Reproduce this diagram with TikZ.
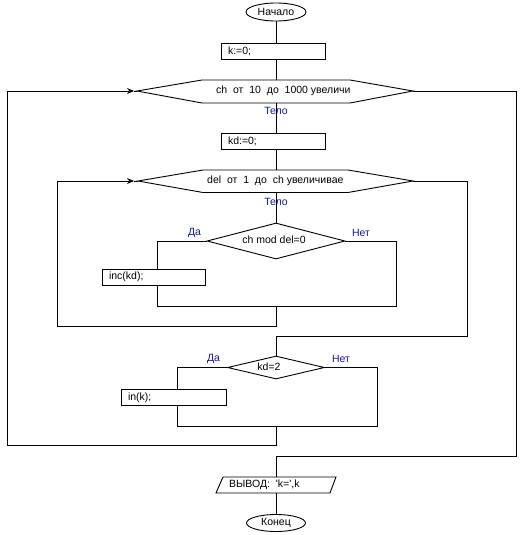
\documentclass[tikz,border=0pt]{standalone}
\usepackage{fontspec}
\newfontfamily\uifont{Liberation Sans}
\usetikzlibrary{shapes.geometric,arrows.meta}
\definecolor{lblc}{RGB}{20,20,190}
\begin{document}
\begin{tikzpicture}[x=1pt,y=-1pt,
  every node/.style={font=\uifont\fontsize{10.5}{12}\selectfont},
  line/.style={line width=0.9pt},
  term/.style={draw, line width=0.9pt, ellipse, minimum width=60pt, minimum height=18pt, inner sep=0pt},
  proc/.style={draw, line width=0.9pt, rectangle, minimum height=16pt, inner xsep=7pt, inner ysep=0pt, align=left, text width=#1},
  cond/.style={draw, line width=0.9pt, diamond, inner sep=0pt},
  lbl/.style={text=lblc, inner sep=0pt},
  txt/.style={inner sep=0pt, anchor=west},
  arr/.style={line width=0.9pt, -{Stealth[length=7pt,width=6pt]}}
]
\useasboundingbox (0,0) rectangle (520,535);
\fill[white] (0,0) rectangle (520,535);

% start and init
\node[term] (start) at (276,12) {Начало};
\node[proc=90pt] (k0) at (273,51) {k:=0;};

% outer loop hexagon
\coordinate (h1w) at (137,91);
\coordinate (h1tl) at (202,80);
\coordinate (h1tr) at (350,80);
\coordinate (h1e) at (413,91);
\coordinate (h1br) at (350,103);
\coordinate (h1bl) at (202,103);
\coordinate (h1t) at (276,80);
\coordinate (h1b) at (276,103);
\draw[line] (h1w) -- (h1tl) -- (h1tr) -- (h1e) -- (h1br) -- (h1bl) -- cycle;
\node[txt] (h1txt) at (216,91) {ch\ \ от\ \ 10\ \ до\ \ 1000 увеличи};
\node[lbl] (tel1) at (276,111) {Тело};

\node[proc=90pt] (kd0) at (273,141) {kd:=0;};

% inner loop hexagon
\coordinate (h2w) at (138,181);
\coordinate (h2tl) at (203,170);
\coordinate (h2tr) at (348,170);
\coordinate (h2e) at (413,181);
\coordinate (h2br) at (348,192.5);
\coordinate (h2bl) at (203,192.5);
\coordinate (h2t) at (276,170);
\coordinate (h2b) at (276,192.5);
\draw[line] (h2w) -- (h2tl) -- (h2tr) -- (h2e) -- (h2br) -- (h2bl) -- cycle;
\node[txt] (h2txt) at (207,181) {del\ \ от\ \ 1\ \ до\ \ ch увеличивае};
\node[lbl] (tel2) at (276,201.5) {Тело};

% condition 1
\node[cond, minimum width=138pt, minimum height=36pt, shape aspect=3.8] (d1) at (276,241) {};
\node[inner sep=0pt] (d1txt) at (274,240) {ch mod del=0};
\node[lbl] (yes1) at (194.5,233) {Да};
\node[lbl] (no1) at (361,233) {Нет};
\node[proc=89pt] (inc) at (153.5,277) {inc(kd);};
\coordinate (d1l) at (157,241);
\coordinate (d1r) at (396,241);
\coordinate (j1l) at (157,306);
\coordinate (j1r) at (396,306);
\coordinate (j1) at (276,306);
\coordinate (l2b) at (276,326);
\coordinate (l2c) at (57,326);
\coordinate (l2t) at (57,181);
\coordinate (a2) at (134,181);

% condition 2
\coordinate (r2t) at (467,181);
\coordinate (r2b) at (467,336);
\coordinate (r2c) at (276,336);
\node[cond, minimum width=97pt, minimum height=23pt, shape aspect=4.2] (d2) at (276,367.5) {};
\node[inner sep=0pt] (d2txt) at (269,367) {kd=2};
\node[lbl] (yes2) at (213.5,359) {Да};
\node[lbl] (no2) at (341,359) {Нет};
\node[proc=91pt] (ink) at (173.5,397.5) {in(k);};
\coordinate (d2l) at (177,367.5);
\coordinate (d2r) at (377,367.5);
\coordinate (j2l) at (177,426);
\coordinate (j2r) at (377,426);
\coordinate (j2) at (276,426);
\coordinate (l1b) at (276,445.5);
\coordinate (l1c) at (7,445.5);
\coordinate (l1t) at (7,91);
\coordinate (a1) at (134,91);
\coordinate (r1t) at (516,91);
\coordinate (r1b) at (516,456);
\coordinate (r1c) at (276,456);

% output
\coordinate (p1) at (223,477);
\coordinate (p2) at (336,477);
\coordinate (p3) at (330,493);
\coordinate (p4) at (216,493);
\coordinate (pt) at (276,477);
\coordinate (pb) at (276,493);
\draw[line] (p1) -- (p2) -- (p3) -- (p4) -- cycle;
\node[txt] (outtxt) at (229,485) {ВЫВОД:\ \ 'k=',k};
\node[term, minimum width=59pt, minimum height=17pt] (end) at (276,523) {Конец};

% connectors
\draw[line] (start) -- (start |- k0.north);
\draw[line] (h1t |- k0.south) -- (h1t);
\draw[line] (h1b) -- (h1b |- kd0.north);
\draw[line] (h1b |- kd0.south) -- (h2t);
\draw[line] (h2b) -- (d1.north);
\draw[line] (d1.west) -- (d1l) -- (d1l |- inc.north);
\draw[line] (d1l |- inc.south) -- (j1l) -- (j1r) -- (d1r) -- (d1.east);
\draw[line] (j1) -- (l2b) -- (l2c) -- (l2t);
\draw[arr] (l2t) -- (a2);
\draw[line] (a2) -- (h2w);
\draw[line] (h2e) -- (r2t) -- (r2b) -- (r2c) -- (d2.north);
\draw[line] (d2.west) -- (d2l) -- (d2l |- ink.north);
\draw[line] (d2l |- ink.south) -- (j2l) -- (j2r) -- (d2r) -- (d2.east);
\draw[line] (j2) -- (l1b) -- (l1c) -- (l1t);
\draw[arr] (l1t) -- (a1);
\draw[line] (a1) -- (h1w);
\draw[line] (h1e) -- (r1t) -- (r1b) -- (r1c) -- (pt);
\draw[line] (pb) -- (end);
\end{tikzpicture}
\end{document}
